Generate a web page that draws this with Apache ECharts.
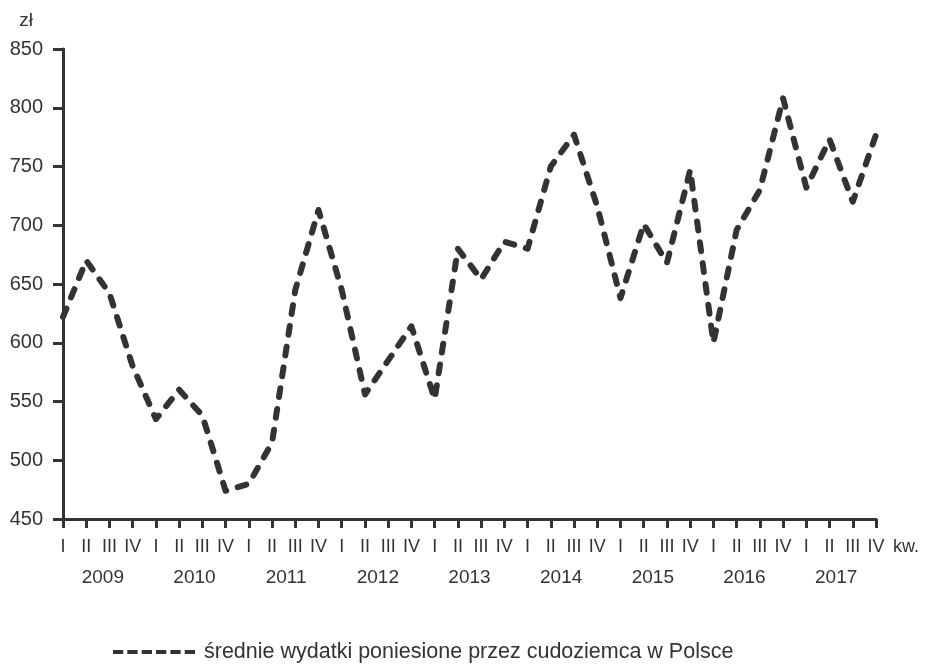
<!DOCTYPE html>
<html>
<head>
<meta charset="utf-8">
<script src="https://cdn.jsdelivr.net/npm/echarts@6/dist/echarts.min.js"></script>
<style>
  html, body { margin: 0; padding: 0; background: #fff; }
  #main { width: 925px; height: 665px; }
</style>
</head>
<body>
<div id="main"></div>
<script>
// kwartały 2009 I - 2017 IV
var years = ["2009", "2010", "2011", "2012", "2013", "2014", "2015", "2016", "2017"];
var quarterNames = ["I", "II", "III", "IV"];
var quarters = [];
years.forEach(function (y) {
  quarterNames.forEach(function (q) {
    quarters.push(y + " " + q);
  });
});

// średnie wydatki (zł)
var wydatki = [
  622, 670, 642, 580,
  535, 560, 538, 474,
  480, 515, 645, 713,
  645, 556, 585, 614,
  552, 680, 654, 686,
  680, 750, 777, 716,
  638, 701, 668, 747,
  600, 696, 730, 808,
  732, 773, 720, 777
];

var yTicks = { min: 450, max: 850, step: 50 };
var seriesName = "średnie wydatki poniesione przez cudoziemca w Polsce";

var chart = echarts.init(document.getElementById("main"));
var dark = "#333333";
var font = "Liberation Sans, Arial, sans-serif";

// 6 kresek w legendzie
var dashIcon = "path://M0,0h10v4h-10z M14,0h10v4h-10z M28,0h10v4h-10z M42,0h10v4h-10z M56,0h10v4h-10z M70,0h10v4h-10z";

var option = {
  backgroundColor: "#fff",
  animation: false,
  textStyle: { fontFamily: font, color: dark },
  grid: [
    { left: 63, right: 49, top: 49, bottom: 146 },
    { left: 57, right: 43, top: 49, bottom: 146 }
  ],
  xAxis: [
    {
      type: "category",
      gridIndex: 0,
      data: quarters,
      boundaryGap: false,
      name: "kw.",
      nameLocation: "end",
      nameGap: 17,
      nameTextStyle: {
        fontSize: 18, color: dark, fontFamily: font,
        verticalAlign: "top", padding: [19, 0, 0, 0]
      },
      axisLine: { lineStyle: { color: dark, width: 3 } },
      axisTick: { show: true, length: 9, lineStyle: { color: dark, width: 3 } },
      axisLabel: {
        interval: 0,
        margin: 19,
        fontSize: 18,
        color: dark,
        fontFamily: font,
        formatter: function (v) { return v.split(" ")[1]; }
      },
      splitLine: { show: false }
    },
    {
      type: "category",
      gridIndex: 1,
      data: years,
      boundaryGap: true,
      position: "bottom",
      axisLine: { show: false },
      axisTick: { show: false },
      axisLabel: { interval: 0, margin: 49, fontSize: 19, color: dark, fontFamily: font },
      splitLine: { show: false }
    }
  ],
  yAxis: [
    {
      type: "value",
      gridIndex: 0,
      min: yTicks.min,
      max: yTicks.max,
      interval: yTicks.step,
      name: "zł",
      nameLocation: "end",
      nameGap: 19,
      nameTextStyle: {
        fontSize: 19, color: dark, fontFamily: font,
        align: "right", padding: [0, 30, 0, 0]
      },
      axisLine: { show: true, lineStyle: { color: dark, width: 3 } },
      axisTick: { show: true, length: 10, lineStyle: { color: dark, width: 3 } },
      axisLabel: { margin: 20, fontSize: 20, color: dark, fontFamily: font },
      splitLine: { show: false }
    },
    {
      type: "value",
      gridIndex: 1,
      show: false
    }
  ],
  legend: {
    left: 113,
    bottom: 2,
    padding: 0,
    icon: dashIcon,
    itemWidth: 82,
    itemHeight: 5,
    itemGap: 10,
    itemStyle: { color: dark },
    textStyle: { fontSize: 21.5, color: dark, fontFamily: font, padding: [0, 0, 0, 4] },
    data: [seriesName]
  },
  series: [
    {
      name: seriesName,
      type: "line",
      xAxisIndex: 0,
      yAxisIndex: 0,
      data: wydatki,
      symbol: "none",
      smooth: false,
      lineStyle: { color: dark, width: 6, type: [9, 12], cap: "round", join: "round" },
      itemStyle: { color: dark }
    }
  ]
};

chart.setOption(option);
</script>
</body>
</html>
